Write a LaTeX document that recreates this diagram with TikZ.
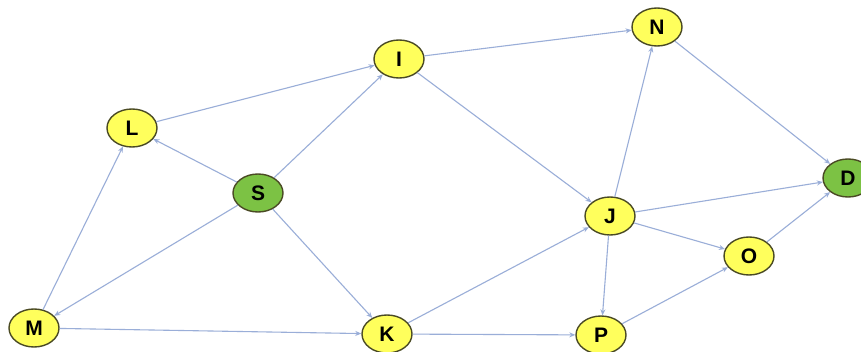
\documentclass[tikz,border=0pt]{standalone}
\usepackage{fontspec}
\setmainfont{Liberation Sans}
\usetikzlibrary{arrows.meta,shapes.geometric}
\definecolor{nodeyellow}{HTML}{FFFF5C}
\definecolor{nodegreen}{HTML}{7CC244}
\definecolor{nodeedge}{HTML}{4A4A24}
\definecolor{linkblue}{HTML}{9AAED8}
\tikzset{
  vert/.style={ellipse, draw=nodeedge, line width=1.4pt, minimum width=50pt,
    minimum height=38pt, inner sep=0pt, font=\fontsize{21}{21}\selectfont\bfseries},
  yv/.style={vert, fill=nodeyellow},
  gv/.style={vert, fill=nodegreen},
  link/.style={draw=linkblue, line width=1.1pt, -{Stealth[length=6pt,width=5pt]}}
}
\begin{document}
\begin{tikzpicture}[x=1pt,y=-1pt]
\useasboundingbox (0,0) rectangle (861,352);
\clip (0,0) rectangle (861,352);
\fill[white] (0,0) rectangle (861,352);
% vertices
\node[yv] (L) at (132,128) {L};
\node[yv] (I) at (399,59) {I};
\node[yv] (N) at (657,27) {N};
\node[gv] (S) at (258,193) {S};
\node[yv] (M) at (34,328) {M};
\node[yv] (K) at (387,334) {K};
\node[yv] (J) at (610,216) {J};
\node[yv] (P) at (601,335) {P};
\node[yv] (O) at (749,256) {O};
\node[gv] (D) at (848,178) {D};
% links
\draw[link] (L) -- (I);
\draw[link] (S) -- (L);
\draw[link] (S) -- (M);
\draw[link] (M) -- (L);
\draw[link] (S) -- (I);
\draw[link] (S) -- (K);
\draw[link] (M) -- (K);
\draw[link] (I) -- (J);
\draw[link] (I) -- (N);
\draw[link] (K) -- (J);
\draw[link] (K) -- (P);
\draw[link] (J) -- (N);
\draw[link] (J) -- (P);
\draw[link] (J) -- (O);
\draw[link] (J) -- (D);
\draw[link] (O) -- (D);
\draw[link] (P) -- (O);
\draw[link] (N) -- (D);
\end{tikzpicture}
\end{document}
